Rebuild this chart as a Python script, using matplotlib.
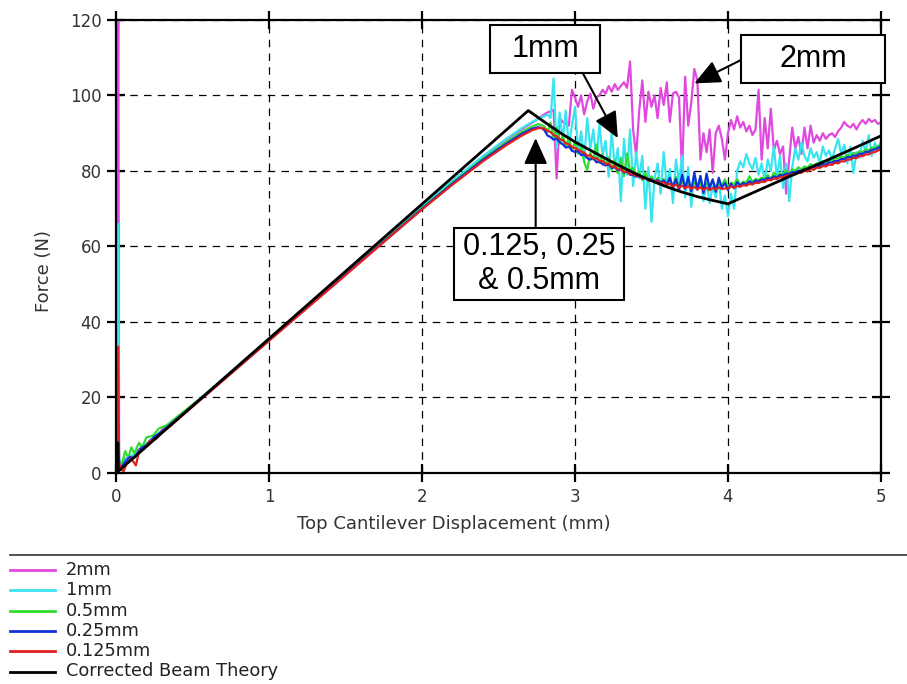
import numpy as np
import matplotlib
matplotlib.use('Agg')
import matplotlib.pyplot as plt
from matplotlib.lines import Line2D
from matplotlib.patches import Rectangle

plt.rcParams['font.family'] = ['DejaVu Sans']
BOX_FONT = ['Liberation Sans', 'DejaVu Sans']

# sampled displacement after the peak (mm), shared by the test curves
X_POST = np.round(np.arange(2.80, 5.0001, 0.02), 2)

# corrected beam theory
BEAM_X = [0.0, 0.012, 0.016, 2.695, 2.8, 2.9, 3.0, 3.1, 3.2, 3.3, 3.4, 3.5, 3.6, 3.7,
          3.8, 3.9, 4.0, 4.2, 4.4, 4.6, 4.8, 5.0]
BEAM_F = [0.0, 8.0, 0.5, 96.0, 93.0, 90.2, 87.7, 85.5, 83.3, 81.2, 79.2, 77.4, 75.8, 74.4,
          73.2, 72.2, 71.3, 74.9, 78.5, 82.0, 85.6, 89.3]

# 0.125mm
RED_PRE_X = [0.0, 0.015, 0.02, 0.03, 0.05, 0.07, 0.10, 0.13, 0.15, 0.18, 0.22, 0.26, 0.30,
             0.35, 0.45, 0.6, 0.8, 1.0, 1.2, 1.4, 1.6, 1.8, 2.0, 2.2, 2.4, 2.55, 2.65,
             2.72, 2.76, 2.78]
RED_PRE_F = [0.0, 33.5, 3.0, 1.0, 0.5, 2.5, 3.8, 2.0, 5.6, 6.2, 8.4, 9.0, 10.8,
             12.3, 15.8, 21.0, 28.0, 35.0, 42.0, 48.9, 55.9, 62.9, 69.8, 76.4, 82.6, 86.8, 89.3,
             90.8, 91.3, 91.4]
RED_POST = [91.2, 90.7, 90.3, 89.5, 89.2, 88.4, 88.2, 87.3, 87.1, 86.4,
            86.0, 85.7, 85.1, 84.9, 84.0, 84.2, 83.3, 83.4, 82.6, 82.7,
            81.8, 82.0, 81.0, 81.3, 80.4, 80.5, 79.7, 80.0, 79.1, 79.2,
            78.6, 78.8, 78.0, 78.3, 77.5, 77.8, 77.1, 77.3, 76.7, 77.0,
            76.3, 76.6, 75.9, 76.4, 75.6, 76.1, 75.4, 76.0, 75.3, 75.8,
            75.1, 75.7, 75.0, 75.6, 74.9, 75.5, 75.1, 75.7, 75.2, 75.4,
            75.3, 75.9, 75.6, 76.0, 75.8, 76.3, 76.1, 76.6, 76.4, 76.9,
            76.8, 77.2, 77.1, 77.7, 77.5, 78.0, 77.9, 78.4, 78.3, 78.8,
            78.7, 79.2, 79.1, 79.6, 79.5, 80.1, 79.9, 80.5, 80.3, 80.9,
            80.8, 81.3, 81.2, 81.7, 81.6, 82.2, 82.0, 82.6, 82.5, 83.0,
            83.0, 83.5, 83.4, 84.0, 83.9, 84.4, 84.4, 84.9, 85.0, 85.4,
            85.9]

# 0.25mm
BLUE_PRE_X = [0.0, 0.015, 0.02, 0.035, 0.06, 0.09, 0.12, 0.16, 0.2, 0.25, 0.3, 0.4, 0.6,
              0.8, 1.0, 1.2, 1.4, 1.6, 1.8, 2.0, 2.2, 2.4, 2.55, 2.65, 2.72, 2.76, 2.78]
BLUE_PRE_F = [0.0, 12.0, 2.0, 1.5, 3.0, 4.2, 4.0, 6.5, 7.4, 9.6, 11.0, 14.4, 21.2,
              28.2, 35.1, 42.1, 49.1, 56.1, 63.0, 70.0, 76.7, 83.0, 87.2, 89.8, 91.2, 91.6, 91.4]
BLUE_POST = [90.8, 89.4, 89.0, 88.3, 88.6, 87.6, 87.1, 86.2, 86.5, 85.4,
             85.0, 85.3, 84.2, 84.4, 83.4, 83.0, 83.5, 82.3, 82.5, 81.8,
             81.5, 81.7, 80.8, 81.0, 80.2, 80.4, 79.6, 79.8, 79.0, 78.9,
             78.5, 78.6, 78.0, 78.1, 77.6, 77.8, 77.2, 77.6, 76.9, 77.5,
             76.4, 78.2, 75.6, 77.9, 74.8, 79.0, 75.3, 78.4, 74.6, 79.6,
             75.1, 78.7, 74.2, 79.3, 75.4, 77.8, 74.5, 78.2, 75.6, 76.8,
             74.9, 76.6, 75.4, 77.0, 76.2, 76.8, 76.4, 77.3, 76.7, 77.5,
             77.2, 77.8, 77.6, 78.2, 77.9, 78.6, 78.3, 78.9, 78.8, 79.3,
             79.2, 79.7, 79.6, 80.1, 80.0, 80.6, 80.4, 81.0, 80.9, 81.4,
             81.3, 81.8, 81.7, 82.3, 82.2, 82.7, 82.6, 83.2, 83.1, 83.7,
             83.6, 84.1, 84.0, 84.6, 84.5, 85.1, 85.0, 85.6, 85.7, 86.1,
             86.5]

# 0.5mm
GREEN_PRE_X = [0.0, 0.015, 0.02, 0.035, 0.06, 0.08, 0.10, 0.12, 0.15, 0.17, 0.2, 0.24, 0.28,
               0.33, 0.4, 0.6, 0.8, 1.0, 1.2, 1.4, 1.6, 1.8, 2.0, 2.2, 2.4, 2.55, 2.65, 2.72,
               2.76, 2.78]
GREEN_PRE_F = [0.0, 10.0, 2.5, 2.0, 5.8, 4.0, 6.8, 5.2, 8.0, 6.8, 9.5, 9.8, 11.8,
               12.6, 14.9, 21.3, 28.3, 35.2, 42.2, 49.2, 56.2, 63.1, 70.1, 76.9, 83.3, 87.6, 90.3,
               91.8, 92.4, 92.2]
GREEN_POST = [91.8, 90.3, 92.8, 88.6, 91.5, 87.2, 89.6, 86.4, 88.9, 85.3,
              87.8, 84.6, 86.2, 82.4, 80.2, 84.8, 83.0, 87.0, 82.1, 84.3,
              81.5, 83.6, 80.3, 82.8, 79.4, 83.5, 78.6, 84.6, 80.1, 80.8,
              78.9, 79.8, 77.6, 79.5, 77.3, 78.6, 76.9, 78.2, 76.4, 77.9,
              76.3, 77.6, 75.8, 78.5, 75.5, 77.3, 75.9, 76.7, 75.6, 77.1,
              75.4, 76.8, 75.9, 76.6, 76.1, 77.4, 75.8, 76.3, 76.2, 77.8,
              75.7, 76.9, 76.5, 77.8, 76.3, 77.2, 76.9, 78.6, 77.1, 77.9,
              77.6, 78.2, 77.9, 79.0, 77.8, 79.6, 78.6, 79.3, 79.1, 80.2,
              79.4, 80.5, 80.0, 81.0, 80.4, 81.2, 80.9, 81.8, 81.4, 82.0,
              81.8, 82.6, 82.3, 82.9, 82.7, 83.5, 83.2, 83.9, 83.6, 84.3,
              84.0, 84.8, 84.5, 85.2, 85.0, 85.7, 85.5, 86.2, 86.1, 86.6,
              87.0]

# 1mm
CYAN_PRE_X = [0.0, 0.015, 0.02, 0.035, 0.06, 0.1, 0.14, 0.18, 0.22, 0.27, 0.32, 0.4, 0.6,
              0.8, 1.0, 1.2, 1.4, 1.6, 1.8, 2.0, 2.2, 2.4, 2.55, 2.65, 2.72, 2.76, 2.78]
CYAN_PRE_F = [0.0, 66.0, 4.0, 2.0, 3.5, 4.6, 5.5, 7.5, 8.4, 10.2, 11.6, 14.6, 21.5,
              28.5, 35.5, 42.5, 49.5, 56.5, 63.5, 70.5, 77.4, 84.0, 88.5, 91.3, 93.0, 93.8, 94.2]
CYAN_POST = [94.5, 95.0, 94.0, 104.5, 86.0, 95.5, 88.0, 96.0, 86.5, 92.0,
             97.0, 85.0, 90.5, 83.0, 94.0, 86.0, 91.0, 82.5, 92.5, 84.0,
             88.0, 78.5, 90.5, 81.0, 86.0, 72.0, 88.5, 79.0, 91.0, 76.0,
             85.0, 78.0, 84.0, 70.0, 81.0, 66.5, 78.0, 82.0, 74.0, 85.0,
             76.0, 80.5, 71.5, 83.0, 77.0, 84.0, 73.0, 81.0, 70.5, 79.0,
             75.0, 78.5, 72.0, 77.0, 71.5, 76.0, 73.0, 77.5, 70.0, 73.5,
             68.0, 74.0, 70.0, 80.0, 82.5, 81.0, 84.5, 82.0, 80.5, 83.5,
             79.0, 82.0, 77.5, 83.0, 80.0, 86.5, 78.0, 84.0, 75.5, 82.0,
             72.0, 81.0, 86.0, 83.0, 87.5, 84.0, 82.5, 86.0, 83.5, 85.0,
             82.0, 86.5, 84.0, 85.5, 83.0, 86.0, 88.5, 84.5, 87.0, 82.0,
             86.5, 79.5, 85.0, 83.5, 88.0, 85.0, 89.5, 84.0, 87.5, 85.5,
             88.0]

# 2mm
MAG_PRE_X = [0.0, 0.015, 0.02, 0.035, 0.06, 0.1, 0.14, 0.18, 0.22, 0.27, 0.31, 0.35, 0.4,
             0.6, 0.8, 1.0, 1.2, 1.4, 1.6, 1.8, 2.0, 2.2, 2.4, 2.55, 2.65, 2.72, 2.76, 2.78]
MAG_PRE_F = [0.0, 130.0, 3.0, 2.5, 3.8, 4.2, 6.0, 6.8, 8.6, 9.8, 12.0, 12.3, 14.2,
             21.4, 28.4, 35.4, 42.4, 49.4, 56.4, 63.3, 70.3, 77.2, 83.8, 88.3, 91.0, 92.8, 93.8,
             94.4]
MAG_POST = [95.0, 95.5, 95.8, 96.2, 78.0, 94.0, 93.0, 92.5, 92.0, 101.5,
            99.5, 97.0, 100.0, 95.0, 98.5, 100.5, 96.5, 99.5, 100.0, 101.5,
            100.5, 102.5, 101.0, 103.0, 101.5, 102.5, 103.5, 102.0, 109.0, 91.0,
            84.0, 96.0, 104.0, 93.0, 101.0, 97.0, 100.0, 94.0, 102.0, 97.5,
            103.5, 93.0, 100.5, 101.0, 99.5, 79.5, 105.0, 92.0, 98.0, 107.0,
            104.0, 83.0, 90.0, 85.0, 91.0, 79.5, 90.0, 92.0, 88.5, 83.0,
            90.0, 93.5, 91.0, 94.5, 91.5, 93.0, 90.5, 92.0, 89.5, 91.0,
            101.5, 83.0, 94.0, 86.0, 96.5, 85.5, 88.0, 84.5, 86.5, 74.0,
            83.0, 91.5, 86.0, 89.0, 84.5, 91.5, 86.0, 92.0, 87.5, 89.5,
            88.0, 90.0, 88.5, 89.5, 90.0, 89.0, 90.5, 91.5, 93.0, 92.0,
            91.5, 92.5, 91.0, 92.5, 93.5, 92.5, 93.8, 93.0, 93.5, 92.5,
            92.8]

SERIES = [
    ('2mm', '#e048e0', MAG_PRE_X, MAG_PRE_F, MAG_POST),
    ('1mm', '#38e4f0', CYAN_PRE_X, CYAN_PRE_F, CYAN_POST),
    ('0.5mm', '#30dd30', GREEN_PRE_X, GREEN_PRE_F, GREEN_POST),
    ('0.25mm', '#1030d8', BLUE_PRE_X, BLUE_PRE_F, BLUE_POST),
    ('0.125mm', '#e02020', RED_PRE_X, RED_PRE_F, RED_POST),
]

fig = plt.figure(figsize=(9.07, 6.84), dpi=100)
ax = fig.add_axes([0.1279, 0.3085, 0.8434, 0.6623])

handles = []
for label, color, px, pf, post in SERIES:
    xs = np.concatenate([px, X_POST])
    fs = np.concatenate([pf, post])
    line, = ax.plot(xs, fs, color=color, lw=1.6)
    handles.append((line, label))
beam, = ax.plot(BEAM_X, BEAM_F, color='black', lw=2)
handles.append((beam, 'Corrected Beam Theory'))

ax.set_xlim(0, 5)
ax.set_ylim(0, 120)
ax.set_xticks([0, 1, 2, 3, 4, 5])
ax.set_yticks([0, 20, 40, 60, 80, 100, 120])
ax.grid(True, ls=(0, (6, 5)), color='black', lw=0.9)
for s in ax.spines.values():
    s.set_linewidth(1.6)
ax.tick_params(direction='inout', length=13, width=1.6, labelsize=12,
               labelcolor='#333333', top=True, right=True, pad=4)
ax.set_xlabel('Top Cantilever Displacement (mm)', fontsize=13, color='#333333')
ax.xaxis.set_label_coords(0.442, -0.093)
ax.set_ylabel('Force (N)', fontsize=13, color='#333333')
ax.yaxis.set_label_coords(-0.083, 0.445)

# annotation boxes (axes fraction)
def label_box(x0, y0, x1, y1, text):
    ax.add_patch(Rectangle((x0, y0), x1 - x0, y1 - y0, transform=ax.transAxes,
                           fc='white', ec='black', lw=1.5, zorder=5, clip_on=False))
    ax.text((x0 + x1) / 2, (y0 + y1) / 2, text, transform=ax.transAxes, ha='center',
            va='center', fontsize=22, linespacing=1.15, zorder=6, family=BOX_FONT)

arrow = dict(arrowstyle='-|>,head_length=1.0,head_width=0.45', mutation_scale=16,
             color='black', lw=1.5, shrinkA=0, shrinkB=0)

ax.annotate('', xy=(3.28, 88.7), xytext=(3.05, 106.0), arrowprops=arrow, zorder=6)
label_box(0.489, 0.883, 0.633, 0.989, '1mm')

ax.annotate('', xy=(3.78, 103.2), xytext=(4.085, 109.4), arrowprops=arrow, zorder=6)
label_box(0.817, 0.861, 1.005, 0.967, '2mm')

ax.annotate('', xy=(2.743, 88.7), xytext=(2.743, 64.9), arrowprops=arrow, zorder=6)
label_box(0.442, 0.382, 0.664, 0.541, '0.125, 0.25\n& 0.5mm')

# legend below the chart
fig.add_artist(Line2D([0.011, 1.0], [1 - 555 / 684] * 2, color='#333333', lw=1.2))
for i, (line, label) in enumerate(handles):
    y = 1 - (570 + 20.3 * i) / 684
    fig.add_artist(Line2D([0.011, 0.061], [y, y], color=line.get_color(), lw=2))
    fig.text(0.073, y, label, fontsize=12.8, color='#222222', va='center')

fig.savefig('out.png', dpi=100)
